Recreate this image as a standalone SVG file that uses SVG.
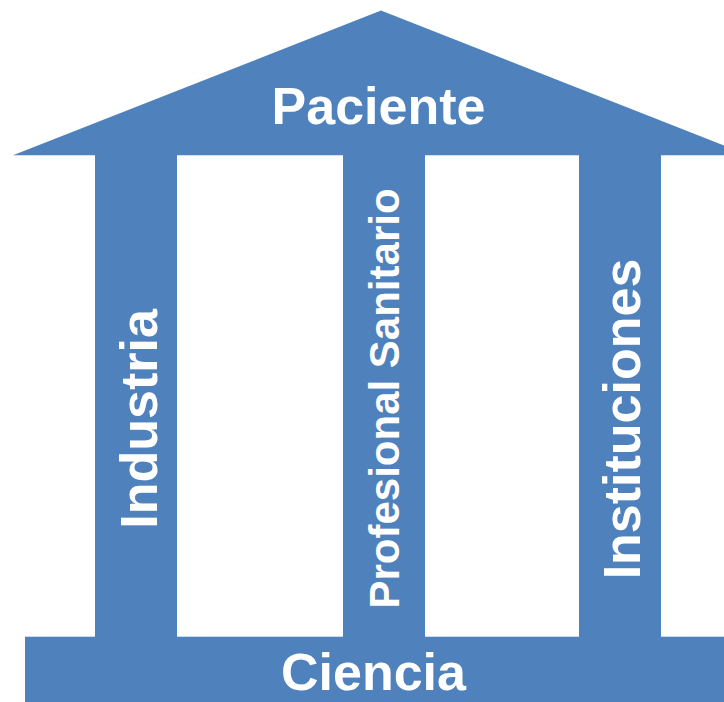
<svg xmlns="http://www.w3.org/2000/svg" width="724" height="702" viewBox="0 0 724 702">
<style>
.shape{fill:#4F81BD;stroke:none}
.lbl{fill:#FFFFFF;font-family:"Liberation Sans",Arial,sans-serif;font-weight:bold;text-anchor:middle}
</style>
<rect width="724" height="702" fill="#FFFFFF"/>
<g id="roof">
<polygon class="shape" points="381,10.5 749,155.3 13,155.3"/>
<text class="lbl" x="378.5" y="124" font-size="52">Paciente</text>
</g>
<g id="industria">
<rect class="shape" x="95" y="155" width="82" height="483"/>
<text class="lbl" transform="translate(156.5,419) rotate(-90)" font-size="52">Industria</text>
</g>
<g id="profesional-sanitario">
<rect class="shape" x="343" y="155" width="82" height="483"/>
<text class="lbl" transform="translate(399,398.5) rotate(-90)" font-size="42">Profesional Sanitario</text>
</g>
<g id="instituciones">
<rect class="shape" x="579" y="155" width="82" height="483"/>
<text class="lbl" transform="translate(640,419) rotate(-90)" font-size="52">Instituciones</text>
</g>
<g id="base">
<rect class="shape" x="25" y="636.7" width="699" height="65.3"/>
<text class="lbl" x="373.5" y="690" font-size="52">Ciencia</text>
</g>
<g id="connectors"/>
</svg>
